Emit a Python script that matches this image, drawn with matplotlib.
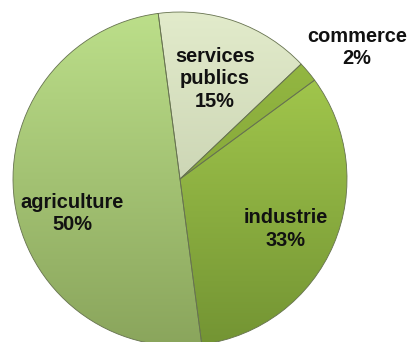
import numpy as np
import matplotlib
matplotlib.use("Agg")
import matplotlib.pyplot as plt
from matplotlib.colors import LinearSegmentedColormap

# Sector shares (%), counter-clockwise from the top
categories = ["agriculture", "industrie", "commerce", "services publics"]
shares = [50, 33, 2, 15]

# top / bottom shade of each sector's vertical gradient
top_colors = ["#bcdf8a", "#acd252", "#98bd45", "#e2ebcb"]
bottom_colors = ["#8aa55c", "#739433", "#77952f", "#b8c2a0"]

W, H = 409, 342
fig = plt.figure(figsize=(W / 100, H / 100), dpi=100)
ax = fig.add_axes([0, 0, 1, 1])

cx, cy, r = 180, 163, 167
wedges, _ = ax.pie(shares, center=(cx, cy), radius=r, startangle=97.5,
                   counterclock=True, frame=True,
                   wedgeprops=dict(edgecolor="#66724f", linewidth=0.6))

grad = np.linspace(1, 0, 256).reshape(-1, 1)
for w, c0, c1 in zip(wedges, top_colors, bottom_colors):
    w.set_facecolor("none")
    cmap = LinearSegmentedColormap.from_list("g", [c1, c0])
    im = ax.imshow(grad, cmap=cmap, extent=[cx - r, cx + r, cy - r, cy + r],
                   aspect="auto", zorder=w.get_zorder() - 0.1, interpolation="bilinear")
    im.set_clip_path(w)

ax.set_xlim(0, W)
ax.set_ylim(0, H)
ax.axis("off")

font = dict(family=["Liberation Sans", "DejaVu Sans"], weight="bold",
            fontsize=14.4, color="#111111", ha="center", va="baseline", zorder=10)

# label blocks: (x centre, baseline of first line in pixels from top)
label_pos = {
    "agriculture": (72, 208),
    "industrie": (286, 223),
    "commerce": (357, 42),
    "services publics": (215, 62),
}
line_step = 22.5
for name, val in zip(categories, shares):
    x, y0 = label_pos[name]
    lines = name.split(" ") + [f"{val}%"]
    for i, s in enumerate(lines):
        ax.text(x, H - (y0 + i * line_step), s, **font)

fig.savefig("out.png", dpi=100)
